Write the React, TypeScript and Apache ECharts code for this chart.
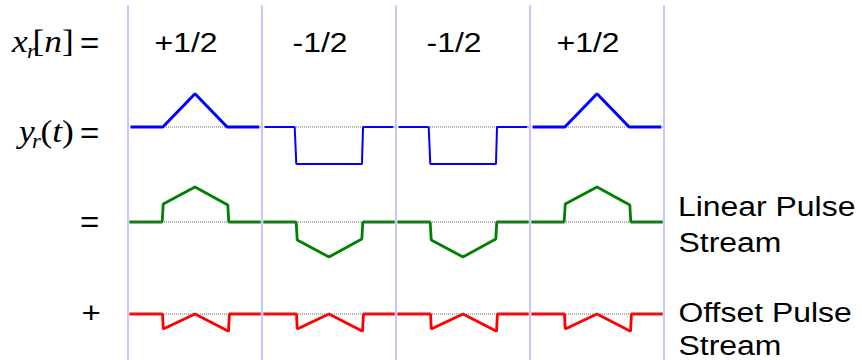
import React, { useEffect, useRef } from "react";
import * as echarts from "echarts";

// Transmitted symbols x_r[n]
const symbols = [0.5, -0.5, -0.5, 0.5];
// Symbol period boundaries, in units of T
const symbolEdges = [0, 1, 2, 3, 4];

// Pulse templates: [time offset from the symbol centre (T), amplitude per unit symbol]
const trianglePulse: number[][] = [[-0.48, 0], [-0.24, 0], [0, 1], [0.24, 0], [0.48, 0]];
const rectPulse: number[][] = [[-0.48, 0], [-0.256, 0], [-0.244, 1.11], [0.246, 1.11], [0.254, 0], [0.48, 0]];
const linearPulse: number[][] = [[-0.49, 0], [-0.245, 0], [-0.237, 0.54], [0, 1.05], [0.245, 0.51], [0.252, 0], [0.49, 0]];
// The offset pulse is the same for every symbol
const offsetPulse: number[][] = [[-0.49, 0], [-0.242, 0], [-0.237, -0.225], [0, 0], [0.25, -0.26], [0.257, 0], [0.49, 0]];

const BLUE = "#0000ff";
const GREEN = "#008000";
const RED = "#ff0000";
const GUIDE = "#c8c8fa";
const SERIF = '"Liberation Serif", "Times New Roman", serif';
const SANS = '"Liberation Sans", Arial, sans-serif';
const SX = 1.14;

const fmtSymbol = (s: number) => `${s > 0 ? "+" : "-"}1/${Math.round(1 / Math.abs(s))}`;

const centre = (k: number) => (symbolEdges[k] + symbolEdges[k + 1]) / 2;
const pulseData = (k: number, shape: number[][], gain: number) =>
  shape.map(([dt, a]) => [centre(k) + dt, a * gain]);

const X0 = symbolEdges[0];
const X1 = symbolEdges[symbolEdges.length - 1];

const rowGrid = (top: number) => ({ left: 128, right: 198, top, height: 80 });
const grids = [
  { left: 128, right: 198, top: 5, bottom: 0 },
  rowGrid(87),
  rowGrid(182),
  rowGrid(274),
];

const lineBase = {
  type: "line",
  symbol: "none",
  silent: true,
  animation: false,
  clip: false,
};

function buildOption() {
  const series: any[] = [];
  // symbol period guides
  series.push({
    ...lineBase,
    xAxisIndex: 0,
    yAxisIndex: 0,
    data: [],
    z: 1,
    markLine: {
      silent: true,
      animation: false,
      symbol: ["none", "none"],
      label: { show: false },
      lineStyle: { color: GUIDE, width: 2, type: "solid" },
      data: symbolEdges.map((e) => ({ xAxis: e })),
    },
  });
  // zero reference lines for each waveform row
  [1, 2, 3].forEach((r) => {
    series.push({
      ...lineBase,
      xAxisIndex: r,
      yAxisIndex: r,
      z: r === 1 ? 2 : 4,
      data: [[X0, 0], [X1, 0]],
      lineStyle: { color: "#6a6a6a", width: 1, type: [1, 1] },
    });
  });
  symbols.forEach((s, k) => {
    series.push({
      ...lineBase,
      xAxisIndex: 1,
      yAxisIndex: 1,
      z: 3,
      data: pulseData(k, s > 0 ? trianglePulse : rectPulse, s),
      lineStyle: { color: BLUE, width: s > 0 ? 3 : 2 },
    });
    series.push({
      ...lineBase,
      xAxisIndex: 2,
      yAxisIndex: 2,
      z: 3,
      data: pulseData(k, linearPulse, s),
      lineStyle: { color: GREEN, width: 2.8 },
    });
    series.push({
      ...lineBase,
      xAxisIndex: 3,
      yAxisIndex: 3,
      z: 3,
      data: pulseData(k, offsetPulse, 1),
      lineStyle: { color: RED, width: 2.8 },
    });
  });

  return {
    animation: false,
    backgroundColor: "#ffffff",
    grid: grids,
    xAxis: grids.map((_, i) => ({ type: "value", gridIndex: i, min: X0, max: X1, show: false })),
    yAxis: grids.map((_, i) =>
      i === 0
        ? { type: "value", gridIndex: i, min: 0, max: 1, show: false }
        : { type: "value", gridIndex: i, min: -0.6, max: 0.6, show: false }
    ),
    series,
  };
}

const text = (t: string, x: number, y: number, size: number, family: string, italic = false, extra: any = {}) => ({
  type: "text",
  x,
  y,
  scaleX: SX,
  z: 10,
  silent: true,
  style: {
    text: t,
    fontSize: size,
    fontFamily: family,
    fontStyle: italic ? "italic" : "normal",
    fill: "#000",
    align: "left",
    verticalAlign: "middle",
    ...extra,
  },
});

const mathRich = {
  n: { fontSize: 31, fontFamily: SERIF, fontStyle: "normal", fill: "#000" },
  i: { fontSize: 31, fontFamily: SERIF, fontStyle: "italic", fill: "#000" },
};

const staticTexts = [
  // x_r[n] =
  text("x", 12, 41.5, 31, SERIF, true),
  text("r", 27, 51.5, 20, SERIF, true),
  text("{n|[}{i|n}{n|]}", 32.5, 41.5, 31, SERIF, false, { rich: mathRich }),
  text("=", 80, 43.5, 29, SANS),
  // y_r(t) =
  text("y", 19, 131.5, 31, SERIF, true),
  text("r", 32, 141.5, 20, SERIF, true),
  text("{n|(}{i|t}{n|)}", 40.5, 131.5, 31, SERIF, false, { rich: mathRich }),
  text("=", 80, 133.5, 29, SANS),
  // row operators
  text("=", 80, 222.5, 29, SANS),
  text("+", 81.5, 313, 29, SANS),
  // row names
  text("Linear Pulse", 678, 206.3, 28, SANS),
  text("Stream", 678.5, 242.3, 28, SANS),
  text("Offset Pulse", 678.5, 312.3, 28, SANS),
  text("Stream", 678.5, 345.5, 28, SANS),
];

export default function App() {
  const ref = useRef<HTMLDivElement>(null);
  useEffect(() => {
    if (!ref.current) return;
    const chart = echarts.init(ref.current, null, { renderer: "svg" });
    chart.setOption(buildOption() as any);
    // symbol values written above each symbol period
    const symbolLabels = symbols.map((s, k) => {
      const px = chart.convertToPixel({ xAxisIndex: 0 }, centre(k)) as number;
      return text(fmtSymbol(s), px - 9, 42.3, 28, SANS, false, { align: "center" });
    });
    chart.setOption({ graphic: [...staticTexts, ...symbolLabels] } as any);
    return () => chart.dispose();
  }, []);
  return (
    <div
      ref={ref}
      style={{ position: "absolute", left: 0, top: 0, width: 862, height: 360 }}
    />
  );
}
